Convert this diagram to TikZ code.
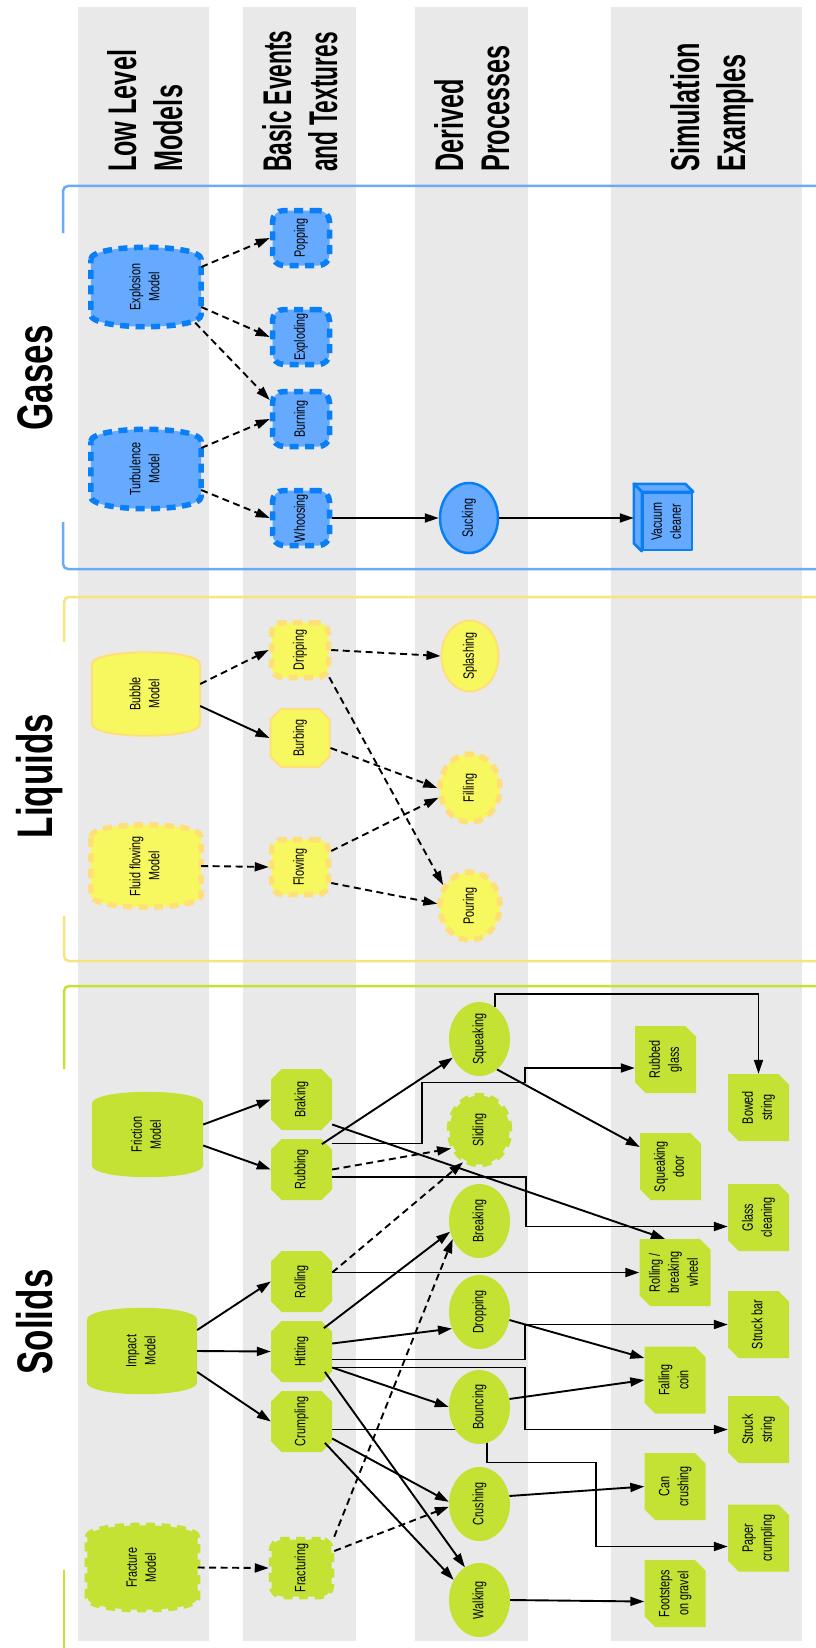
\documentclass[tikz,border=0pt]{standalone}
\usepackage{graphicx}
\usepackage{fontspec}
\setmainfont{Liberation Sans}
\newfontfamily\nodefnt[FakeStretch=0.72]{Liberation Sans}
\newfontfamily\headfnt[FakeStretch=0.63]{Liberation Sans}
\newfontfamily\phasefnt[FakeStretch=0.70]{Liberation Sans}
\usetikzlibrary{shapes.geometric,shapes.misc,arrows.meta,calc}

\pgfdeclarelayer{stripes}
\pgfdeclarelayer{edges}
\pgfdeclarelayer{shapes}
\pgfsetlayers{stripes,edges,shapes,main}

\definecolor{stripe}{HTML}{E9E9E9}
\definecolor{gasfill}{HTML}{66AAFF}
\definecolor{gasline}{HTML}{0A7FF5}
\definecolor{gasframe}{HTML}{6AABF5}
\definecolor{liqfill}{HTML}{F7F760}
\definecolor{liqline}{HTML}{FFDF78}
\definecolor{liqframe}{HTML}{F8E47C}
\definecolor{solfill}{HTML}{C4E233}

% rotated, centred multi-line label
\newcommand\rtext[1]{\rotatebox{90}{\begin{tabular}{@{}c@{}}#1\end{tabular}}}

% barrel outline around a named node (straight sides, bulging ends)
\newcommand\barrelpath[2]{%
  \begin{pgfonlayer}{shapes}
  \path[#2] ($(#1.north west)+(0,12)$) .. controls ($(#1.north west)+(0,-4)$) and ($(#1.north east)+(0,-4)$) .. ($(#1.north east)+(0,12)$)
    -- ($(#1.south east)+(0,-12)$) .. controls ($(#1.south east)+(0,4)$) and ($(#1.south west)+(0,4)$) .. ($(#1.south west)+(0,-12)$) -- cycle;
  \end{pgfonlayer}}

\tikzset{
  txt/.style={font=\nodefnt\fontsize{15}{19}\selectfont, inner sep=0pt, text=black},
  dashedge/.style={line width=5.5pt, dash pattern=on 9pt off 6.5pt},
  gasev/.style={txt, draw=gasline, fill=gasfill, dashedge, rounded corners=11pt, minimum width=57pt, minimum height=55pt},
  liqevd/.style={gasev, draw=liqline, fill=liqfill},
  liqev/.style={txt, chamfered rectangle, chamfered rectangle xsep=7pt, draw=liqline, fill=liqfill, line width=2pt, minimum width=59pt, minimum height=58pt},
  solev/.style={txt, chamfered rectangle, chamfered rectangle xsep=7pt, fill=solfill, minimum width=61pt, minimum height=61pt},
  solevd/.style={gasev, draw=solfill, fill=solfill, minimum width=60pt, minimum height=57pt},
  gasdp/.style={txt, ellipse, draw=gasline, fill=gasfill, line width=2.5pt, minimum width=58pt, minimum height=70pt},
  liqdp/.style={txt, ellipse, draw=liqline, fill=liqfill, line width=2pt, minimum width=57pt, minimum height=71pt},
  liqdpd/.style={txt, ellipse, draw=liqline, fill=liqfill, dashedge, minimum width=60pt, minimum height=68pt},
  soldp/.style={txt, ellipse, fill=solfill, minimum width=61pt, minimum height=74pt},
  soldpd/.style={liqdpd, draw=solfill, fill=solfill, minimum width=60pt, minimum height=69pt},
  card/.style={txt, chamfered rectangle, chamfered rectangle corners={north east,south west}, chamfered rectangle xsep=7pt, fill=solfill, minimum width=61pt, minimum height=67pt},
  gasbox/.style={txt, draw=gasline, fill=gasfill, line width=2.5pt, line join=round, minimum width=49pt, minimum height=57pt},
  gasside/.style={draw=gasline, fill=gasfill, line width=2.5pt, line join=round},
  gasbar/.style={draw=gasline, fill=gasfill, dashedge},
  liqbar/.style={draw=liqline, fill=liqfill, line width=2pt},
  liqbard/.style={draw=liqline, fill=liqfill, dashedge},
  solbar/.style={fill=solfill},
  solbard/.style={draw=solfill, fill=solfill, dashedge},
  link/.style={draw=black, line width=1.9pt, -{Triangle[length=14pt,width=9pt]}},
  dlink/.style={link, dash pattern=on 7pt off 4.5pt},
  hdr/.style={rotate=90, anchor=base west, inner sep=0pt, font=\headfnt\bfseries\fontsize{40}{46}\selectfont},
  phase/.style={rotate=90, anchor=base, inner sep=0pt, font=\phasefnt\bfseries\fontsize{50}{55}\selectfont},
  gasfr/.style={draw=gasframe, line width=2.5pt, rounded corners=5pt},
  liqfr/.style={draw=liqframe, line width=2.5pt, rounded corners=5pt},
  solfr/.style={draw=solfill, line width=2.5pt, rounded corners=5pt},
}

\begin{document}
\begin{tikzpicture}[x=1pt,y=-1pt]
\useasboundingbox (0,0) rectangle (815,1648);

% column bands and section brackets
\begin{pgfonlayer}{stripes}
  \fill[stripe] (78,7) rectangle (209,1641);
  \fill[stripe] (243,7) rectangle (356,1641);
  \fill[stripe] (415,7) rectangle (528,1641);
  \fill[stripe] (611,7) rectangle (802,1641);
  \draw[gasfr] (830,186) -- (63,186) -- (63,233);
  \draw[gasfr] (63,522) -- (63,569) -- (830,569);
  \draw[liqfr] (830,597) -- (64,597) -- (64,642);
  \draw[liqfr] (64,916) -- (64,961) -- (830,961);
  \draw[solfr] (830,986) -- (64,986) -- (64,1069);
  \draw[solfr] (64,1570) -- (64,1660);
\end{pgfonlayer}

% column headings
\node[hdr] (hA1) at (136,172) {Low Level};
\node[hdr] (hA2) at (182,172) {Models};
\node[hdr, xscale=0.9] (hB1) at (291,172) {Basic Events};
\node[hdr, xscale=0.9] (hB2) at (337,172) {and Textures};
\node[hdr] (hC1) at (463,172) {Derived};
\node[hdr] (hC2) at (509,172) {Processes};
\node[hdr] (hD1) at (699,172) {Simulation};
\node[hdr] (hD2) at (745,172) {Examples};

% section labels
\node[phase] (lgas) at (52,378) {Gases};
\node[phase] (lliq) at (52,776) {Liquids};
\node[phase] (lsol) at (52,1322) {Solids};

% ---------------- Gases ----------------
\node[txt, minimum width=110pt, minimum height=79pt] (expl) at (146,287) {\rtext{Explosion\\Model}};
\barrelpath{expl}{gasbar}
\node[txt, minimum width=110pt, minimum height=79pt] (turb) at (146,469) {\rtext{Turbulence\\Model}};
\barrelpath{turb}{gasbar}
\node[gasev] (pop) at (301,238) {\rtext{Popping}};
\node[gasev] (expd) at (301,337) {\rtext{Exploding}};
\node[gasev] (burn) at (301,419) {\rtext{Burning}};
\node[gasev] (whoo) at (301,518) {\rtext{Whoosing}};
\node[gasdp] (suck) at (469,518) {\rtext{Sucking}};
\node[gasbox] (vac) at (667.5,521.5) {\rtext{Vacuum\\cleaner}};
\begin{pgfonlayer}{shapes}
  \path[gasside] (vac.north west) -- ++(-8,-8) -- ($(vac.north east)+(-8,-8)$) -- (vac.north east) -- cycle;
  \path[gasside] (vac.north west) -- ++(-8,-8) -- ($(vac.south west)+(-8,-8)$) -- (vac.south west) -- cycle;
\end{pgfonlayer}

% ---------------- Liquids ----------------
\node[txt, minimum width=108pt, minimum height=83pt] (bubble) at (146,694) {\rtext{Bubble\\Model}};
\barrelpath{bubble}{liqbar}
\node[txt, minimum width=110pt, minimum height=82pt] (fluid) at (146,866) {\rtext{Fluid flowing\\Model}};
\barrelpath{fluid}{liqbard}
\node[liqevd] (drip) at (300,650) {\rtext{Dripping}};
\node[liqev] (burb) at (300,738) {\rtext{Burbing}};
\node[liqevd] (flow) at (300,867) {\rtext{Flowing}};
\node[liqdp] (splash) at (470,656) {\rtext{Splashing}};
\node[liqdpd] (fillg) at (470,788) {\rtext{Filling}};
\node[liqdpd] (pour) at (470,906) {\rtext{Pouring}};

% ---------------- Solids ----------------
\node[txt, minimum width=111pt, minimum height=85pt] (fric) at (147.5,1134.5) {\rtext{Friction\\Model}};
\barrelpath{fric}{solbar}
\node[txt, minimum width=110pt, minimum height=86pt] (impact) at (142,1351) {\rtext{Impact\\Model}};
\barrelpath{impact}{solbar}
\node[txt, minimum width=110pt, minimum height=84pt] (fract) at (142.5,1567.5) {\rtext{Fracture\\Model}};
\barrelpath{fract}{solbard}

\node[solev] (brak) at (301.5,1099.5) {\rtext{Braking}};
\node[solev] (rub) at (301.5,1169.5) {\rtext{Rubbing}};
\node[solev] (roll) at (301.5,1281.5) {\rtext{Rolling}};
\node[solev] (hit) at (301.5,1351.5) {\rtext{Hitting}};
\node[solev] (crump) at (301.5,1421.5) {\rtext{Crumpling}};
\node[solevd] (fractg) at (301.5,1568) {\rtext{Fracturing}};

\node[soldp] (squeak) at (479.5,1039) {\rtext{Squeaking}};
\node[soldpd] (slide) at (479.5,1130) {\rtext{Sliding}};
\node[soldp] (brk) at (479.5,1221) {\rtext{Breaking}};
\node[soldp] (drop) at (479.5,1312) {\rtext{Dropping}};
\node[soldp] (bounce) at (479.5,1407) {\rtext{Bouncing}};
\node[soldp] (crush) at (479.5,1504) {\rtext{Crushing}};
\node[soldp] (walk) at (479.5,1600) {\rtext{Walking}};

\node[card] (rglass) at (665.5,1059.5) {\rtext{Rubbed\\glass}};
\node[card] (bowed) at (758.5,1107.5) {\rtext{Bowed\\string}};
\node[card] (sdoor) at (670.5,1166.5) {\rtext{Squeaking\\door}};
\node[card] (gclean) at (758.5,1217.5) {\rtext{Glass\\cleaning}};
\node[card] (wheel) at (675,1272.5) {\rtext{Rolling /\\breaking\\wheel}};
\node[card] (sbar) at (758.5,1324.5) {\rtext{Struck bar}};
\node[card] (coin) at (675,1380) {\rtext{Falling\\coin}};
\node[card] (sstring) at (758.5,1429.5) {\rtext{Struck\\string}};
\node[card] (can) at (675,1486.5) {\rtext{Can\\crushing}};
\node[card] (paper) at (758.5,1538) {\rtext{Paper\\crumpling}};
\node[card] (foot) at (675,1593.5) {\rtext{Footsteps\\on gravel}};

% ---------------- connectors: gases ----------------
\draw[dlink] ($(expl.east)+(0,-20)$) -- (pop.west);
\draw[dlink] ($(expl.east)+(0,20)$) -- (expd.west);
\draw[dlink] ($(expl.south east)+(-6,-4)$) -- ($(burn.west)+(0,-19)$);
\draw[dlink] ($(turb.east)+(0,-21)$) -- (burn.west);
\draw[dlink] ($(turb.east)+(0,21)$) -- (whoo.west);
\draw[link] (whoo.east) -- (suck.west);
\draw[link] (suck.east) -- ($(vac.west)+(-8,-3.5)$);

% ---------------- connectors: liquids ----------------
\draw[dlink] ($(bubble.east)+(0,-10)$) -- (drip.west);
\draw[link] ($(bubble.east)+(0,12)$) -- (burb.west);
\draw[dlink] (fluid.east) -- (flow.west);
\draw[dlink] (drip.east) -- (splash.west);
\draw[dlink] ($(drip.south east)+(-2,-3)$) -- (pour.142);
\draw[dlink] ($(burb.east)+(0,10)$) -- (fillg.west);
\draw[dlink] ($(flow.east)+(0,-16)$) -- (fillg.197);
\draw[dlink] ($(flow.east)+(0,16)$) -- (pour.176);

% ---------------- connectors: solids ----------------
\draw[link] ($(fric.east)+(0,-10)$) -- (brak.west);
\draw[link] ($(fric.east)+(0,11)$) -- (rub.west);
\draw[link] ($(impact.east)+(0,-21)$) -- (roll.west);
\draw[link] (impact.east) -- (hit.west);
\draw[link] ($(impact.east)+(0,21)$) -- (crump.west);
\draw[dlink] (fract.east) -- (fractg.west);

\draw[link] ($(rub.north east)+(-5,0)$) -- (squeak.215);
\draw[dlink] (rub.east) -- (slide.213);
\draw[dlink] ($(roll.east)+(0,-9)$) -- (slide.243);
\draw[link] ($(hit.north east)+(-3,2)$) -- (brk.200);
\draw[dlink] (fractg.north east) -- (brk.214);
\draw[link] ($(brak.east)+(0,25)$) -- ($(wheel.north)+(-10,0)$);
\draw[link] ($(rub.east)+(0,-26)$) -- ++(90,0) -- ++(0,-61) -- ++(103,0) |- ($(rglass.west)+(0,8.5)$);
\draw[link] ($(rub.east)+(0,7.5)$) -- ++(194,0) |- ($(gclean.west)+(0,9)$);
\draw[link] (squeak.64) |- ($(bowed.north)+(0,-80)$) -- (bowed.north);
\draw[link] (squeak.300) -- ($(sdoor.west)+(0,-19.5)$);
\draw[link] ($(roll.east)+(0,-9)$) -- (wheel.west);
\draw[link] ($(hit.east)+(0,-8)$) -- (drop.211);
\draw[link] ($(hit.east)+(0,8)$) -- ++(193,0) |- (sbar.west);
\draw[link] ($(hit.east)+(0,16)$) -- ++(193,0) |- (sstring.west);
\draw[link] ($(hit.east)+(0,16)$) -- (bounce.west);
\draw[link] ($(hit.south east)+(-2,-5)$) -- (walk.114);
\draw[link] ($(crump.east)+(0,17)$) -- (crush.176);
\draw[link] ($(crump.south east)+(-2,-4)$) -- (walk.142);
\draw[dlink] ($(fractg.east)+(0,-17)$) -- (crush.185);
\draw[link] (drop.345) -- ($(coin.west)+(0,-22)$);
\draw[link] (bounce.15) -- (coin.west);
\draw[link] (crush.15) -- (can.west);
\draw[link] (walk.east) -- ($(foot.west)+(0,8)$);
\begin{pgfonlayer}{edges}
  \draw[link] ($(crump.east)+(0,8)$) -- ++(155,0) -- ++(0,33) -- ++(109,0) |- ($(paper.west)+(0,8.5)$);
\end{pgfonlayer}
\end{tikzpicture}
\end{document}
